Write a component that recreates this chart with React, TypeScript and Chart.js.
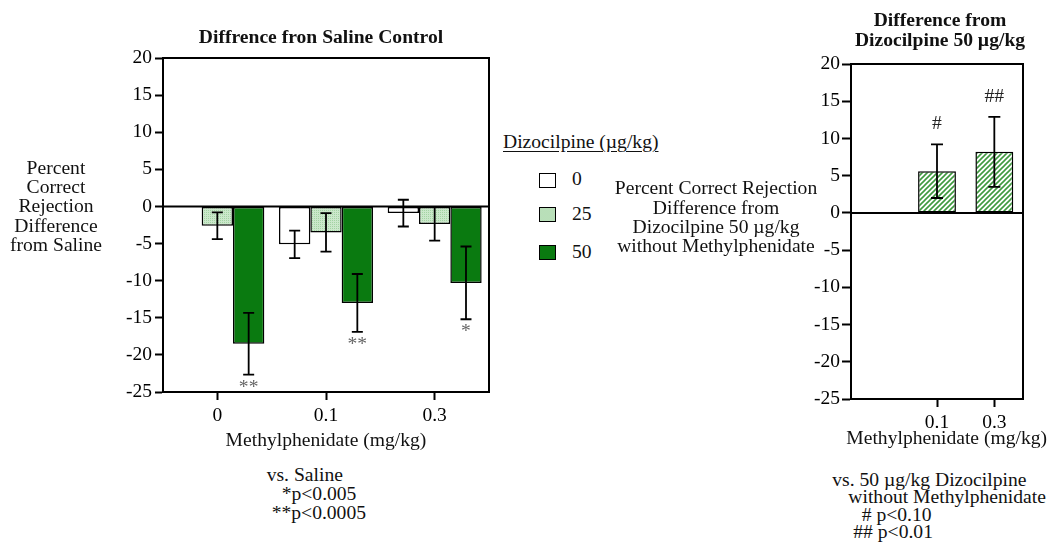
import React, { useEffect, useRef } from 'react';
import { Chart, registerables } from 'chart.js';

Chart.register(...registerables);

// ---- data ----
const leftCategories = ['0', '0.1', '0.3'];
const dose0Values = [null, -5.1, -0.9];
const dose0Errors = [0, 1.85, 1.8];
const dose0Marks = ['', '', ''];
const dose25Values = [-2.6, -3.5, -2.35];
const dose25Errors = [1.8, 2.6, 2.25];
const dose25Marks = ['', '', ''];
const dose50Values = [-18.5, -13.0, -10.3];
const dose50Errors = [4.15, 3.9, 4.9];
const dose50Marks = ['**', '**', '*'];

const rightCategories = ['', '0.1', '0.3'];
const rightValues = [null, 5.6, 8.2];
const rightErrors = [0, 3.6, 4.7];
const rightMarks = ['', '#', '##'];

const yMin = -25;
const yMax = 20;
const yStep = 5;

const legendLabels = ['0', '25', '50'];

const SERIF = "'Liberation Serif', 'Times New Roman', serif";
const DARK_GREEN = '#0a7a10';
const FS = 19.6;

function makeDotPattern(): CanvasPattern | string {
  const c = document.createElement('canvas');
  c.width = 2;
  c.height = 2;
  const g = c.getContext('2d');
  if (!g) return '#bfe0bf';
  g.fillStyle = '#cbe8cb';
  g.fillRect(0, 0, 2, 2);
  g.fillStyle = '#a3d3a3';
  g.fillRect(0, 0, 1, 1);
  const p = g.createPattern(c, 'repeat');
  return p || '#bfe0bf';
}

function makeHatchPattern(): CanvasPattern | string {
  const s = 5;
  const c = document.createElement('canvas');
  c.width = s;
  c.height = s;
  const g = c.getContext('2d');
  if (!g) return '#9fd09f';
  g.fillStyle = '#ffffff';
  g.fillRect(0, 0, s, s);
  g.strokeStyle = '#3f9a3f';
  g.lineWidth = 1.6;
  g.beginPath();
  g.moveTo(-1, s + 1);
  g.lineTo(s + 1, -1);
  g.moveTo(-1, 1);
  g.lineTo(1, -1);
  g.moveTo(s - 1, s + 1);
  g.lineTo(s + 1, s - 1);
  g.stroke();
  const p = g.createPattern(c, 'repeat');
  return p || '#9fd09f';
}

const framePlugin = {
  id: 'frame',
  afterDatasetsDraw(chart: any) {
    const { ctx, chartArea } = chart;
    const y0 = chart.scales.y.getPixelForValue(0);
    ctx.save();
    ctx.strokeStyle = '#000';
    ctx.lineWidth = 2;
    ctx.beginPath();
    ctx.moveTo(chartArea.left, y0);
    ctx.lineTo(chartArea.right, y0);
    ctx.stroke();
    ctx.strokeRect(chartArea.left, chartArea.top, chartArea.right - chartArea.left, chartArea.bottom - chartArea.top);
    ctx.restore();
  },
};

const errorBarPlugin = {
  id: 'errorBars',
  afterDatasetsDraw(chart: any) {
    const { ctx } = chart;
    const yScale = chart.scales.y;
    chart.data.datasets.forEach((ds: any, di: number) => {
      const meta = chart.getDatasetMeta(di);
      const errs: number[] = ds.errors || [];
      const marks: string[] = ds.marks || [];
      const cap: number = ds.capHalf || 5.5;
      meta.data.forEach((el: any, i: number) => {
        const v = ds.data[i];
        if (v === null || v === undefined) return;
        const se = errs[i] || 0;
        const x = el.x;
        const yHi = yScale.getPixelForValue(v + se);
        const yLo = yScale.getPixelForValue(v - se);
        ctx.save();
        if (se > 0) {
          ctx.strokeStyle = '#000';
          ctx.lineWidth = 1.8;
          ctx.beginPath();
          ctx.moveTo(x, yHi);
          ctx.lineTo(x, yLo);
          ctx.moveTo(x - cap, yHi);
          ctx.lineTo(x + cap, yHi);
          ctx.moveTo(x - cap, yLo);
          ctx.lineTo(x + cap, yLo);
          ctx.stroke();
        }
        const m = marks[i];
        if (m) {
          ctx.font = `${FS}px ${SERIF}`;
          ctx.textAlign = 'center';
          ctx.textBaseline = 'alphabetic';
          if (v < 0) {
            ctx.fillStyle = '#666';
            ctx.fillText(m, x, yLo + 18);
          } else {
            ctx.fillStyle = '#222';
            ctx.fillText(m, x, yHi - 15);
          }
        }
        ctx.restore();
      });
    });
  },
};

const tickFont = { family: SERIF, size: 19.5 };
const titleFont = { family: SERIF, size: FS };

type TextProps = {
  x: number;
  baseline: number;
  align?: 'left' | 'center';
  bold?: boolean;
  underline?: boolean;
  children: React.ReactNode;
};

function T({ x, baseline, align = 'left', bold, underline, children }: TextProps) {
  const top = baseline - 17.6;
  const style: React.CSSProperties = {
    position: 'absolute',
    top,
    fontFamily: SERIF,
    fontSize: FS,
    lineHeight: '22px',
    fontWeight: bold ? 700 : 400,
    textDecoration: underline ? 'underline' : 'none',
    textUnderlineOffset: '3px',
    whiteSpace: 'nowrap',
    color: '#111',
  };
  if (align === 'center') {
    style.left = x - 300;
    style.width = 600;
    style.textAlign = 'center';
  } else {
    style.left = x;
  }
  return <div style={style}>{children}</div>;
}

export default function App() {
  const leftRef = useRef<HTMLCanvasElement>(null);
  const rightRef = useRef<HTMLCanvasElement>(null);

  useEffect(() => {
    if (!leftRef.current || !rightRef.current) return;
    const dots = makeDotPattern();
    const hatch = makeHatchPattern();

    const left = new Chart(leftRef.current, {
      type: 'bar',
      data: {
        labels: leftCategories,
        datasets: [
          { label: '0', data: dose0Values, backgroundColor: '#ffffff', borderColor: '#000', borderWidth: 1.5, borderSkipped: false, errors: dose0Errors, marks: dose0Marks } as any,
          { label: '25', data: dose25Values, backgroundColor: dots, borderColor: '#000', borderWidth: 1.5, borderSkipped: false, errors: dose25Errors, marks: dose25Marks } as any,
          { label: '50', data: dose50Values, backgroundColor: DARK_GREEN, borderColor: '#000', borderWidth: 1.5, borderSkipped: false, errors: dose50Errors, marks: dose50Marks } as any,
        ],
      },
      options: {
        animation: false,
        responsive: false,
        maintainAspectRatio: false,
        layout: { padding: { left: 0, right: 11, top: 58, bottom: 0 } },
        datasets: { bar: { categoryPercentage: 0.865, barPercentage: 1 } },
        plugins: { legend: { display: false }, tooltip: { enabled: false }, title: { display: false } },
        scales: {
          x: {
            grid: { display: true, offset: false, drawOnChartArea: false, tickLength: 8, tickColor: '#000', tickWidth: 2 },
            border: { display: true, color: '#000', width: 2 },
            ticks: { color: '#000', font: tickFont, padding: 4 },
            title: { display: true, text: 'Methylphenidate (mg/kg)', color: '#111', font: titleFont, padding: { top: 0, bottom: 7.6 } },
            afterFit: (s: any) => { s.height = 68; },
          },
          y: {
            min: yMin,
            max: yMax,
            ticks: { stepSize: yStep, color: '#000', font: tickFont, padding: 3 },
            grid: {
              drawOnChartArea: false,
              tickColor: '#000',
              tickWidth: 2,
              tickLength: 8,
            },
            border: { display: true, color: '#000', width: 2 },
            afterFit: (s: any) => { s.width = 73; },
          },
        },
      } as any,
      plugins: [framePlugin, errorBarPlugin],
    });

    const right = new Chart(rightRef.current, {
      type: 'bar',
      data: {
        labels: rightCategories,
        datasets: [
          { label: '50 µg/kg Dizocilpine + Methylphenidate', data: rightValues, backgroundColor: hatch, borderColor: '#000', borderWidth: 1.5, borderSkipped: false, errors: rightErrors, marks: rightMarks, capHalf: 6 } as any,
        ],
      },
      options: {
        animation: false,
        responsive: false,
        maintainAspectRatio: false,
        layout: { padding: { left: 0, right: 32, top: 64, bottom: 0 } },
        datasets: { bar: { categoryPercentage: 1, barPercentage: 0.66 } },
        plugins: { legend: { display: false }, tooltip: { enabled: false }, title: { display: false } },
        scales: {
          x: {
            grid: {
              display: true,
              offset: false,
              drawOnChartArea: false,
              tickLength: 8,
              tickColor: (c: any) => (c.index === 0 ? 'rgba(0,0,0,0)' : '#000'),
              tickWidth: 2,
            },
            border: { display: true, color: '#000', width: 2 },
            ticks: { color: '#000', font: tickFont, padding: 4 },
            afterFit: (s: any) => { s.height = 61; },
          },
          y: {
            min: yMin,
            max: yMax,
            ticks: { stepSize: yStep, color: '#000', font: tickFont, padding: 2 },
            grid: {
              drawOnChartArea: false,
              tickColor: '#000',
              tickWidth: 2,
              tickLength: 9,
            },
            border: { display: true, color: '#000', width: 2 },
            afterFit: (s: any) => { s.width = 51; },
          },
        },
      } as any,
      plugins: [framePlugin, errorBarPlugin],
    });

    return () => {
      left.destroy();
      right.destroy();
    };
  }, []);

  const legendSwatches: React.CSSProperties[] = [
    { background: '#ffffff' },
    { background: 'radial-gradient(circle, #a3d3a3 0.6px, rgba(0,0,0,0) 0.8px) 0 0 / 2px 2px, #cbe8cb' },
    { background: DARK_GREEN },
  ];
  const swatchTops = [173, 207, 245];
  const legendBaselines = [185.5, 221, 259];

  return (
    <div style={{ position: 'absolute', left: 0, top: 0, width: 1055, height: 545, background: '#fff', overflow: 'hidden' }}>
      <canvas ref={leftRef} width={410} height={460} style={{ position: 'absolute', left: 90, top: 0, width: 410, height: 460 }} />
      <canvas ref={rightRef} width={255} height={460} style={{ position: 'absolute', left: 800, top: 0, width: 255, height: 460 }} />

      {/* left chart texts */}
      <T x={321} baseline={44} align="center" bold>Diffrence fron Saline Control</T>
      <T x={56} baseline={174.3} align="center">Percent</T>
      <T x={56} baseline={193.6} align="center">Correct</T>
      <T x={56} baseline={213} align="center">Rejection</T>
      <T x={56} baseline={232.4} align="center">Difference</T>
      <T x={56} baseline={251.7} align="center">from Saline</T>
      <T x={266.7} baseline={481.7}>vs. Saline</T>
      <T x={281.7} baseline={501}>*p&lt;0.005</T>
      <T x={271.7} baseline={520}>**p&lt;0.0005</T>

      {/* legend */}
      <T x={503} baseline={149} underline>Dizocilpine (µg/kg)</T>
      {legendLabels.map((lab, i) => (
        <React.Fragment key={lab}>
          <div
            style={{
              position: 'absolute',
              left: 539,
              top: swatchTops[i],
              width: 17,
              height: 15,
              boxSizing: 'border-box',
              border: '1.5px solid #000',
              ...legendSwatches[i],
            }}
          />
          <T x={572} baseline={legendBaselines[i]}>{lab}</T>
        </React.Fragment>
      ))}

      {/* right chart texts */}
      <T x={940} baseline={26.7} align="center" bold>Difference from</T>
      <T x={940} baseline={46.7} align="center" bold>Dizocilpine 50 µg/kg</T>
      <T x={716} baseline={195} align="center">Percent Correct Rejection</T>
      <T x={716} baseline={214.2} align="center">Difference from</T>
      <T x={716} baseline={233.4} align="center">Dizocilpine 50 µg/kg</T>
      <T x={716} baseline={252.7} align="center">without Methylphenidate</T>
      <T x={946.7} baseline={445} align="center">Methylphenidate (mg/kg)</T>
      <T x={832.3} baseline={486.7}>vs. 50 µg/kg Dizocilpine</T>
      <T x={848.3} baseline={503.3}>without Methylphenidate</T>
      <T x={861.7} baseline={521.7}># p&lt;0.10</T>
      <T x={853.3} baseline={539}>## p&lt;0.01</T>
    </div>
  );
}
